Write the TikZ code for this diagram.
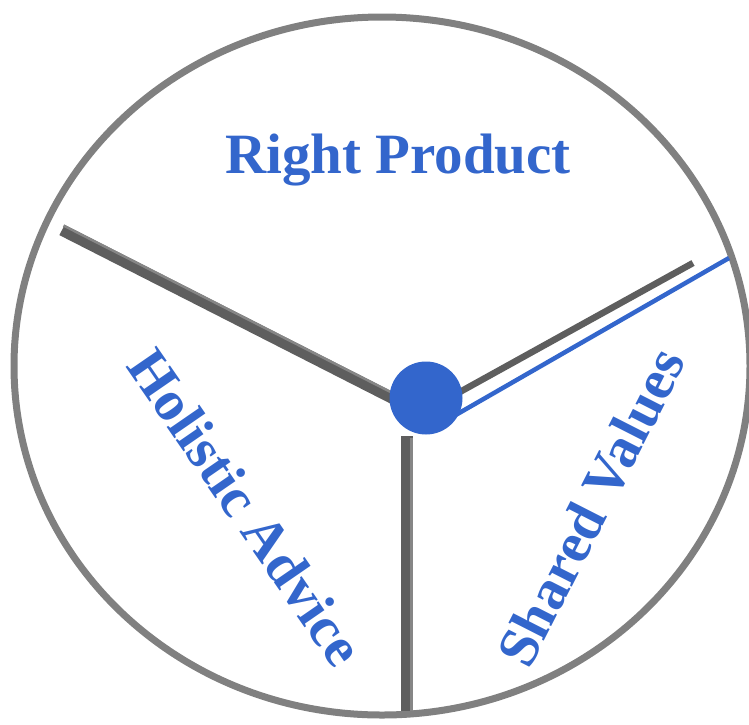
\documentclass[tikz,border=0pt]{standalone}
\usepackage{fontspec}
\setmainfont{Liberation Serif}
\usetikzlibrary{shapes,calc}

\begin{document}
\begin{tikzpicture}[x=1pt,y=-1pt,
		spoke/.style={line width=11.5pt,color=spokegray},
		bevel/.style={line width=2.5pt,color=spokegray!75!white},
		label/.style={text=cblue,font=\bfseries\fontsize{57}{60}\selectfont,inner sep=0pt}]
					\definecolor{cblue}{HTML}{3366CC}
					\definecolor{ringgray}{HTML}{808080}
					\definecolor{spokegray}{HTML}{5E5E5E}
					\useasboundingbox (0,0) rectangle (749,724);
					\draw[line width=7pt,ringgray] (382,366) ellipse [x radius=368pt,y radius=349pt];
					
					\coordinate (leftend) at (62,230);
					\coordinate (lefthub) at (398,401);
					\coordinate (downtop) at (407,436);
					\coordinate (downend) at (407,711);
					\coordinate (rightstart) at (458,393);
					\coordinate (rightend) at (693,263);
					\coordinate (bluestart) at (440,424);
					\coordinate (blueend) at (729,258);
					
					\draw[spoke] (leftend) -- (lefthub);
					\draw[bevel] ($(leftend)+(1.5,-4.5)$) -- ($(lefthub)+(1.5,-4.5)$);
					\draw[spoke] (downtop) -- (downend);
					\draw[bevel] ($(downtop)+(4.5,2)$) -- ($(downend)+(4.5,0)$);
					\draw[line width=6.5pt,spokegray] (rightstart) -- (rightend);
					\draw[line width=4.5pt,cblue] (bluestart) -- (blueend);
					\node[circle,fill=cblue,minimum size=73pt,inner sep=0pt] (hub) at (426,398) {};
					
					\node[label,anchor=base] (product) at (398,173) {Right Product};
					\node[label,rotate=-55.4] (advice) at (246,507) {Holistic Advice};
					\node[label,rotate=63] (values) at (591,507) {Shared Values};
				\end{tikzpicture}
\end{document}
